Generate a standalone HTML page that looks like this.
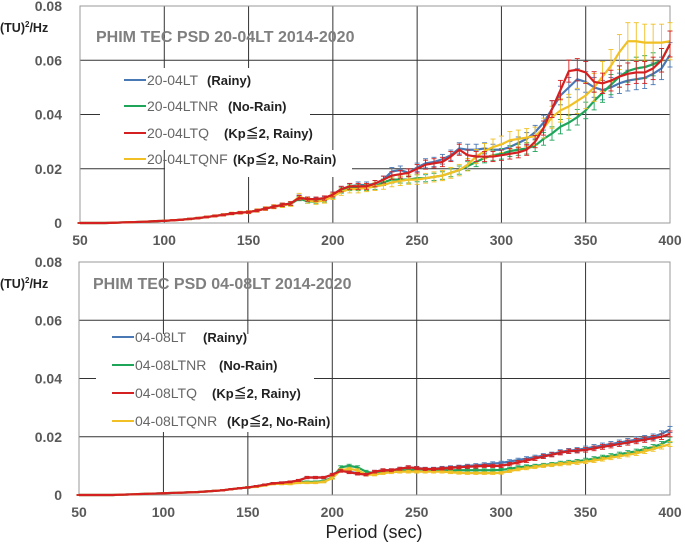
<!DOCTYPE html>
<html><head><meta charset="utf-8"><style>
body{margin:0;background:#fff}
svg{display:block;font-family:"Liberation Sans","Noto Sans CJK JP",sans-serif}
</style></head><body>
<svg id="chart" width="685" height="545"></svg>
<script>
const xs=[];for(let p=50;p<=400;p+=5)xs.push(p);
const xTicks=[50,100,150,200,250,300,350,400];
const yTicks=[0,0.02,0.04,0.06,0.08];
const yTickLabels=["0","0.02","0.04","0.06","0.08"];
const early=[0,0,0,0,0.1,0.2,0.3,0.4,0.5,0.7,0.8, 1.0,1.2,1.5,1.8,2.2,2.6,3.0,3.5,3.8,4.0];
const topBlue=early.concat([4.6,5.3,6.0,6.7,7.2,9.5,8.8,8.5,9.0,10.5, 12.5,13.5,14.0,14.0,14.5,16.0,19.0,19.5,18.5,20.5, 22.0,22.5,23.5,25.0,27.5,27.0,27.0,27.5,27.0,27.0, 28.0,29.5,31.0,33.5,37.0,42.0,47.0,50.0,53.0,52.0, 50.0,49.0,50.0,51.5,52.5,53.0,53.5,55.0,57.0,62.0]);
const topRed=early.concat([4.6,5.3,6.0,6.7,7.2,9.3,8.8,8.8,9.2,10.5, 12.5,13.5,13.5,13.5,14.5,16.0,17.5,18.0,18.5,20.0, 21.5,22.0,22.5,24.5,27.0,25.0,24.5,24.5,24.5,25.0, 25.5,26.0,27.0,30.0,35.0,42.0,49.0,56.0,56.5,55.5, 52.0,51.5,52.5,54.0,55.0,55.5,55.5,57.0,60.0,66.0]);
const topGreen=early.concat([4.6,5.3,6.0,6.5,7.0,9.0,8.0,7.8,8.5,10.0, 12.0,13.0,13.0,13.0,13.5,15.0,16.0,16.0,16.0,16.5, 16.5,17.0,17.5,18.5,19.5,21.0,22.5,24.0,25.0,25.5, 26.5,27.0,27.5,28.5,31.0,33.0,35.5,37.0,39.0,41.5, 45.0,48.0,51.0,54.0,56.0,57.0,57.5,58.5,60.0,66.0]);
const topYellow=early.concat([4.6,5.3,6.0,6.5,7.0,9.8,8.3,7.8,8.3,9.8, 11.5,12.5,12.5,13.0,13.5,14.0,15.0,15.5,16.0,16.0, 16.5,17.0,17.5,18.5,19.5,21.5,24.5,26.5,28.0,29.0, 30.5,31.0,31.5,32.0,35.0,39.0,41.5,43.0,45.0,47.0, 50.0,54.0,58.0,63.0,67.0,67.0,66.5,66.5,66.5,67.0]);
const early2=[0,0,0,0,0,0.1,0.2,0.3,0.4,0.5,0.6, 0.7,0.8,0.9,1.0,1.2,1.4,1.6,2.0,2.3,2.6];
const botBlue=early2.concat([3.0,3.5,4.0,4.2,4.5,5.0,6.0,6.0,6.0,7.0, 8.5,8.0,7.5,7.0,8.0,8.5,8.5,9.0,9.5,9.3, 9.0,9.0,9.3,9.5,9.7,10.0,10.2,10.5,10.8,11.0, 11.5,12.0,12.5,13.0,13.5,14.0,14.8,15.2,15.5,16.0, 16.5,17.0,17.5,18.0,18.5,19.0,19.5,20.0,21.0,22.5]);
const botRed=early2.concat([3.0,3.5,4.0,4.2,4.5,5.0,6.0,6.0,6.0,7.0, 8.3,7.8,7.3,7.0,8.0,8.5,8.5,9.0,9.5,9.2, 8.9,8.9,9.1,9.3,9.5,9.7,9.8,10.0,10.0,10.0, 10.6,11.2,11.8,12.5,13.2,13.8,14.5,15.0,15.2,15.5, 16.0,16.5,17.0,17.5,18.0,18.5,19.0,19.5,20.0,21.0]);
const botGreen=early2.concat([3.0,3.5,4.0,4.0,4.0,4.5,4.5,4.5,4.8,6.0, 9.5,10.0,9.5,8.0,7.5,8.0,8.2,8.5,8.5,8.8, 8.8,8.6,8.6,8.5,8.5,8.5,8.5,8.5,8.5,8.6, 9.0,9.5,9.8,10.0,10.3,10.6,11.0,11.3,11.6,12.0, 12.5,13.0,13.5,14.0,14.5,15.0,15.8,16.5,17.5,19.0]);
const botYellow=early2.concat([2.8,3.3,3.8,3.8,3.8,4.2,4.2,4.2,4.5,5.8, 8.5,9.0,8.5,7.0,7.0,7.5,7.8,8.0,8.0,8.0, 8.0,8.0,8.0,7.8,7.6,7.5,7.5,7.5,7.5,7.6, 8.2,8.8,9.2,9.6,10.0,10.3,10.6,10.9,11.1,11.4, 11.8,12.3,12.8,13.3,13.8,14.3,15.0,15.8,16.6,17.5]);
const colors={blue:"#4a78b5",green:"#1fa55a",red:"#d42020",yellow:"#f0c024"};

const NS="http://www.w3.org/2000/svg";
const svg=document.getElementById('chart');
function el(t,a,p){const e=document.createElementNS(NS,t);for(const k in a)e.setAttribute(k,a[k]);(p||svg).appendChild(e);return e;}

function panel(cfg){
  const g=el('g',{});
  
  
  const X=v=>cfg.x0+(v-50)/350*(cfg.x1-cfg.x0);
  const Y=v=>cfg.y0-v/0.08*(cfg.y0-cfg.y1);
  yTicks.forEach((t,i)=>{
    const l=el('line',{x1:cfg.x0,x2:cfg.x1,y1:Y(t),y2:Y(t),stroke:"#333","stroke-width":1},g);
    
    
    const tx=el('text',{x:62,y:Y(t)+5,"text-anchor":"end","font-size":14,"font-weight":"bold",fill:"#595959"},g);
    tx.textContent=yTickLabels[i];
    
    
  });
  xTicks.forEach(t=>{
    const l=el('line',{x1:X(t),x2:X(t),y1:cfg.y1,y2:cfg.y0,stroke:"#333","stroke-width":1},g);
    
    
    const tx=el('text',{x:X(t),y:cfg.y0+22,"text-anchor":"middle","font-size":14,"font-weight":"bold",fill:"#595959"},g);
    tx.textContent=t;
    
    
  });
  el('rect',{x:cfg.x0,y:cfg.y1,width:cfg.x1-cfg.x0,height:cfg.y0-cfg.y1,fill:"none",stroke:"#999"},g);
  cfg.masks.forEach(m=>el('rect',{x:m[0],y:m[1],width:m[2],height:m[3],fill:"#fff"},g));
  cfg.series.forEach(s=>{
    const sg=el('g',{},g);
    
    
    s.vals.forEach((v,i)=>{
      const e=(v*s.ef+0.15)/1000,x=X(xs[i]);
      el('line',{x1:x,x2:x,y1:Y(v/1000-e),y2:Y(v/1000+e),stroke:s.c,"stroke-width":0.9},sg);
      el('line',{x1:x-2.5,x2:x+2.5,y1:Y(v/1000+e),y2:Y(v/1000+e),stroke:s.c,"stroke-width":0.9},sg);
      el('line',{x1:x-2.5,x2:x+2.5,y1:Y(v/1000-e),y2:Y(v/1000-e),stroke:s.c,"stroke-width":0.9},sg);
    });
    const p=el('polyline',{points:s.vals.map((v,i)=>X(xs[i])+","+Y(v/1000)).join(" "),fill:"none",stroke:s.c,"stroke-width":2.2,"stroke-linejoin":"round"},sg);
    
    
  });
  const t=el('text',{x:cfg.tx,y:cfg.ty,"font-size":16,"font-weight":"bold",fill:"#7f7f7f"},g);
  t.textContent=cfg.title;
  
  
  const u=el('text',{x:0,y:cfg.y1+26,"font-size":12.5,"font-weight":"bold",fill:"#222"},g);
  u.innerHTML='(TU)<tspan font-size="8" dy="-5">2</tspan><tspan dy="5">/Hz</tspan>';
  
  
  cfg.legend.forEach(L=>{
    const lg=el('g',{},g);
    
    
    el('line',{x1:L.lx,x2:L.lx+22,y1:L.y,y2:L.y,stroke:L.c,"stroke-width":2},lg);
    const a=el('text',{x:L.lx+23,y:L.y+5,"font-size":14,fill:"#666"},lg);a.textContent=L.name;
    const b=el('text',{x:L.px,y:L.y+5,"font-size":13,"font-weight":"bold",fill:"#222"},lg);b.textContent=L.desc;
  });
}
panel({name:'panel-20-04lt',x0:80,x1:670,y0:223,y1:6,tx:96,ty:42,title:"PHIM TEC PSD 20-04LT 2014-2020",
  masks:[[100,68,210,82],[165,150,187,27]],
  series:[{key:'blue',vals:topBlue,c:colors.blue,ef:0.07},{key:'green',vals:topGreen,c:colors.green,ef:0.07},{key:'yellow',vals:topYellow,c:colors.yellow,ef:0.1},{key:'red',vals:topRed,c:colors.red,ef:0.07}],
  legend:[{lx:124,y:80,c:colors.blue,name:"20-04LT",px:207,desc:"(Rainy)"},{lx:124,y:106,c:colors.green,name:"20-04LTNR",px:228,desc:"(No-Rain)"},{lx:124,y:133,c:colors.red,name:"20-04LTQ",px:224,desc:"(Kp≦2, Rainy)"},{lx:124,y:159,c:colors.yellow,name:"20-04LTQNF",px:233,desc:"(Kp≦2, No-Rain)"}]});
panel({name:'panel-04-08lt',x0:79,x1:670,y0:495,y1:262,tx:93,ty:289,title:"PHIM TEC PSD 04-08LT 2014-2020",
  masks:[[96,334,218,98]],
  series:[{key:'blue',vals:botBlue,c:colors.blue,ef:0.04},{key:'green',vals:botGreen,c:colors.green,ef:0.04},{key:'yellow',vals:botYellow,c:colors.yellow,ef:0.04},{key:'red',vals:botRed,c:colors.red,ef:0.04}],
  legend:[{lx:112,y:337,c:colors.blue,name:"04-08LT",px:203,desc:"(Rainy)"},{lx:112,y:365,c:colors.green,name:"04-08LTNR",px:219,desc:"(No-Rain)"},{lx:112,y:393,c:colors.red,name:"04-08LTQ",px:212,desc:"(Kp≦2, Rainy)"},{lx:112,y:421,c:colors.yellow,name:"04-08LTQNR",px:227,desc:"(Kp≦2, No-Rain)"}]});
const xt=el('text',{x:374,y:538,"text-anchor":"middle","font-size":18,fill:"#222"});
xt.textContent="Period (sec)";


</script>
</body></html>
